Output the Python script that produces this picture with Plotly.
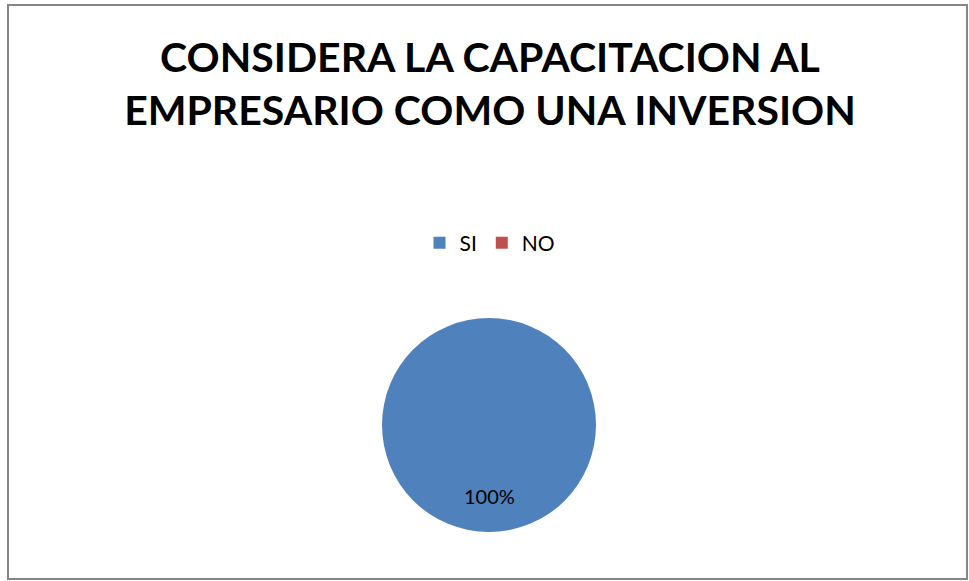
import plotly.graph_objects as go

categories = ["SI", "NO"]
values = [100, 0]
colors = ["#4F81BD", "#C0504D"]
title_text = "CONSIDERA LA CAPACITACION AL<br>EMPRESARIO COMO UNA INVERSION"

W, H = 969, 581
cx, cy, r = 489, 425, 107

total = sum(values)
pct_label = f"{round(100 * values[0] / total)}%"

FONT = "Lato, Carlito, Calibri, sans-serif"

fig = go.Figure()
fig.add_trace(go.Pie(
    labels=categories,
    values=values,
    marker=dict(colors=colors, line=dict(width=0)),
    sort=False,
    direction="clockwise",
    rotation=0,
    textinfo="none",
    hoverinfo="label+percent",
    domain=dict(x=[(cx - r) / W, (cx + r) / W], y=[(H - cy - r) / H, (H - cy + r) / H]),
    showlegend=True,
))

fig.add_annotation(
    x=cx / W, y=(H - 496) / H, xref="paper", yref="paper",
    text=pct_label, showarrow=False, yanchor="middle",
    font=dict(family=FONT, size=20, color="#000000"),
)

fig.update_layout(
    width=W, height=H,
    margin=dict(l=0, r=0, t=0, b=0),
    paper_bgcolor="white",
    plot_bgcolor="white",
    title=dict(
        text=title_text,
        x=490 / W, xanchor="center",
        y=(H - 72) / H, yanchor="middle",
        font=dict(family=FONT, size=41, color="#000000", weight="bold"),
    ),
    legend=dict(
        orientation="h",
        x=490 / W, xanchor="center",
        y=(H - 243) / H, yanchor="middle",
        font=dict(family=FONT, size=21, color="#000000"),
        itemwidth=30,
        tracegroupgap=0,
    ),
    shapes=[dict(
        type="rect", xref="paper", yref="paper",
        x0=8 / W, x1=967 / W, y0=(H - 579) / H, y1=(H - 5) / H,
        line=dict(color="#868686", width=2),
    )],
)

fig.write_html(
    "out.html",
    config={"displayModeBar": False},
    post_script="document.body.style.margin='0';document.body.style.overflow='hidden';",
)
